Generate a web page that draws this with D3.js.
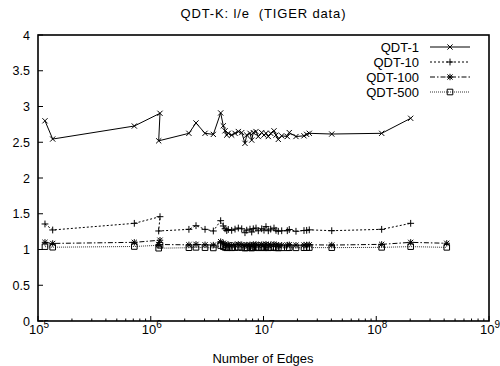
<!DOCTYPE html>
<html>
<head>
<meta charset="utf-8">
<script src="https://cdn.jsdelivr.net/npm/d3@7/dist/d3.min.js"></script>
<style>
  html, body { margin: 0; padding: 0; background: #fff; }
  svg { display: block; font-family: "Liberation Sans", Arial, sans-serif; }
</style>
</head>
<body>
<svg id="chart" width="500" height="366"></svg>
<script>
// Number of edges for each TIGER data set
const edges = [
  1.153e5, 1.35e5, 7.15e5, 1.208e6, 1.176e6, 2.18e6, 2.52e6, 3.03e6, 3.59e6, 4.17e6,
  4.40e6, 4.56e6, 4.72e6, 4.87e6, 5.22e6, 5.59e6, 5.98e6, 6.41e6, 6.85e6, 7.10e6,
  7.59e6, 7.86e6, 8.12e6, 8.58e6, 8.99e6, 9.64e6, 1.01e7, 1.052e7, 1.103e7, 1.158e7,
  1.239e7, 1.291e7, 1.353e7, 1.45e7, 1.626e7, 1.693e7, 1.941e7, 2.286e7, 2.415e7, 2.547e7,
  4.03e7, 1.117e8, 2.02e8, 4.22e8
];

// l/e ratio per bucket capacity (null = not measured)
const qdt1 = [
  2.80, 2.545, 2.727, 2.905, 2.52, 2.625, 2.77, 2.625, 2.61, 2.91,
  2.73, 2.66, 2.60, 2.625, 2.60, 2.625, 2.65, 2.635, 2.485, 2.60,
  2.625, 2.53, 2.635, 2.65, 2.58, 2.635, 2.60, 2.625, 2.58, 2.625,
  2.66, 2.60, 2.54, 2.59, 2.58, 2.635, 2.58, 2.59, 2.61, 2.625,
  2.615, 2.625, 2.835, null
];
const qdt10 = [
  1.357, 1.273, 1.366, 1.459, 1.259, 1.282, 1.333, 1.282, 1.259, 1.403,
  1.329, 1.290, 1.265, 1.280, 1.268, 1.285, 1.300, 1.290, 1.235, 1.270,
  1.285, 1.245, 1.290, 1.300, 1.262, 1.290, 1.270, 1.320, 1.262, 1.285,
  1.300, 1.268, 1.255, 1.262, 1.263, 1.280, 1.255, 1.265, 1.268, 1.275,
  1.263, 1.282, 1.366, null
];
const qdt100 = [
  1.100, 1.085, 1.100, 1.130, 1.070, 1.065, 1.072, 1.066, 1.062, 1.110,
  1.088, 1.072, 1.060, 1.068, 1.060, 1.066, 1.072, 1.068, 1.055, 1.062,
  1.066, 1.056, 1.068, 1.072, 1.060, 1.068, 1.062, 1.075, 1.060, 1.066,
  1.072, 1.062, 1.058, 1.060, 1.062, 1.066, 1.060, 1.062, 1.064, 1.066,
  1.062, 1.072, 1.100, 1.087
];
const qdt500 = [
  1.040, 1.032, 1.042, 1.060, 1.018, 1.025, 1.030, 1.026, 1.022, 1.055,
  1.040, 1.030, 1.024, 1.028, 1.024, 1.027, 1.030, 1.028, 1.020, 1.024,
  1.026, 1.020, 1.028, 1.030, 1.024, 1.028, 1.024, 1.032, 1.024, 1.026,
  1.030, 1.024, 1.022, 1.024, 1.024, 1.026, 1.024, 1.025, 1.026, 1.027,
  1.026, 1.030, 1.040, 1.030
];

const seriesNames = ["QDT-1", "QDT-10", "QDT-100", "QDT-500"];
const seriesValues = [qdt1, qdt10, qdt100, qdt500];
const yTicks = [0, 0.5, 1, 1.5, 2, 2.5, 3, 3.5, 4];
const yTickLabels = ["0", "0.5", "1", "1.5", "2", "2.5", "3", "3.5", "4"];
const xDecades = [5, 6, 7, 8, 9];

const svg = d3.select("#chart");
const L = 38, R = 489, T = 35, B = 321;

const x = d3.scaleLog().domain([1e5, 1e9]).range([L, R]);
const y = d3.scaleLinear().domain([0, 4]).range([B, T]);

// title (two spaces kept before the parenthesis)
svg.append("text").attr("x", 263).attr("y", 18).attr("text-anchor", "middle")
  .attr("font-size", 13).attr("textLength", 165).attr("lengthAdjust", "spacing")
  .text("QDT-K: l/e\u00a0 (TIGER data)");

// y ticks and labels
yTicks.forEach((v, i) => {
  const yy = y(v);
  svg.append("line").attr("x1", L).attr("x2", L + 5).attr("y1", yy).attr("y2", yy)
    .attr("stroke", "#000").attr("stroke-width", 1);
  svg.append("text").attr("x", 30).attr("y", yy + 4.5).attr("text-anchor", "end")
    .attr("font-size", 12.5).text(yTickLabels[i]);
});

// x ticks: majors at decades, minors at 2..9
for (let d = 5; d < 9; d++) {
  for (let m = 2; m <= 9; m++) {
    const xx = x(m * Math.pow(10, d));
    svg.append("line").attr("x1", xx).attr("x2", xx).attr("y1", B).attr("y2", B - 2.5)
      .attr("stroke", "#000").attr("stroke-width", 1);
  }
}
xDecades.forEach(d => {
  const xx = x(Math.pow(10, d));
  svg.append("line").attr("x1", xx).attr("x2", xx).attr("y1", B).attr("y2", B - 5)
    .attr("stroke", "#000").attr("stroke-width", 1);
  const t = svg.append("text").attr("x", xx + 1).attr("y", 334).attr("text-anchor", "middle")
    .attr("font-size", 13);
  t.append("tspan").text("10");
  t.append("tspan").attr("dy", -6.5).attr("font-size", 10).text(d);
});

// x axis label
svg.append("text").attr("x", 263).attr("y", 363).attr("text-anchor", "middle")
  .attr("font-size", 13).text("Number of Edges");

// marker shapes
function markerPath(kind, cx, cy) {
  const p = d3.path();
  if (kind === 0) {          // x
    const s = 2.6;
    p.moveTo(cx - s, cy - s); p.lineTo(cx + s, cy + s);
    p.moveTo(cx - s, cy + s); p.lineTo(cx + s, cy - s);
  } else if (kind === 1) {   // +
    const s = 3.4;
    p.moveTo(cx - s, cy); p.lineTo(cx + s, cy);
    p.moveTo(cx, cy - s); p.lineTo(cx, cy + s);
  } else if (kind === 2) {   // asterisk
    const s = 2.6;
    p.moveTo(cx - s, cy - s); p.lineTo(cx + s, cy + s);
    p.moveTo(cx - s, cy + s); p.lineTo(cx + s, cy - s);
    p.moveTo(cx - 3.2, cy); p.lineTo(cx + 3.2, cy);
    p.moveTo(cx, cy - 3.2); p.lineTo(cx, cy + 3.2);
  } else {                   // open square
    const s = 2.8;
    p.rect(cx - s, cy - s, 2 * s, 2 * s);
  }
  return p.toString();
}

const dashes = [null, "2,2", "5,2,1.5,2", "1,1"];
const lineColors = ["#000", "#000", "#000", "#333"];

const line = d3.line()
  .defined(d => d.v !== null)
  .x(d => x(d.e))
  .y(d => y(d.v));

const plot = svg.append("g");
seriesValues.forEach((vals, k) => {
  const pts = edges.map((e, i) => ({ e: e, v: vals[i] }));
  plot.append("path").attr("d", line(pts)).attr("fill", "none")
    .attr("stroke", lineColors[k]).attr("stroke-width", 1)
    .attr("stroke-dasharray", dashes[k]);
  pts.filter(d => d.v !== null).forEach(d => {
    plot.append("path").attr("d", markerPath(k, x(d.e), y(d.v)))
      .attr("fill", "none").attr("stroke", "#000").attr("stroke-width", 1);
  });
});

// legend
const legend = svg.append("g");
seriesNames.forEach((name, k) => {
  const yy = 47 + k * 15;
  legend.append("text").attr("x", 419).attr("y", yy + 4.5).attr("text-anchor", "end")
    .attr("font-size", 13).text(name);
  legend.append("line").attr("x1", 430).attr("x2", 470).attr("y1", yy).attr("y2", yy)
    .attr("stroke", lineColors[k]).attr("stroke-width", 1)
    .attr("stroke-dasharray", dashes[k]);
  legend.append("path").attr("d", markerPath(k, 450, yy))
    .attr("fill", "none").attr("stroke", "#000").attr("stroke-width", 1);
});

// frame
svg.append("rect").attr("x", L).attr("y", T).attr("width", R - L).attr("height", B - T)
  .attr("fill", "none").attr("stroke", "#000").attr("stroke-width", 1.6);
</script>
</body>
</html>
